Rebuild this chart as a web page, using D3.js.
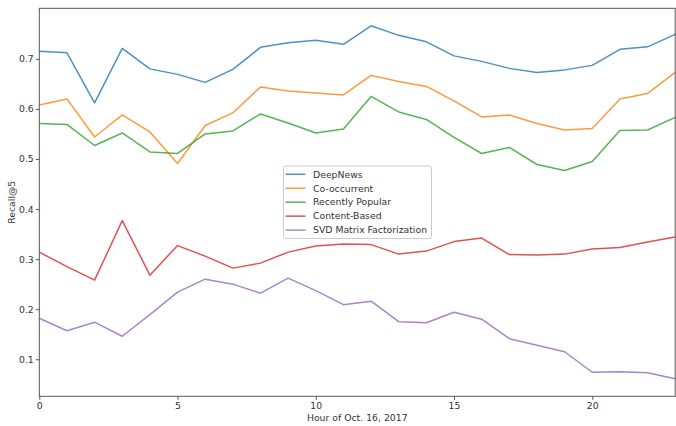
<!DOCTYPE html>
<html>
<head>
<meta charset="utf-8">
<script src="https://cdn.jsdelivr.net/npm/d3@7"></script>
<style>
  html, body { margin: 0; padding: 0; background: #fff; }
  svg { display: block; font-family: "DejaVu Sans", sans-serif; }
</style>
</head>
<body>
<svg id="chart" width="676" height="426"></svg>
<script>
const hours = d3.range(0, 24);
const seriesNames = ["DeepNews", "Co-occurrent", "Recently Popular", "Content-Based", "SVD Matrix Factorization"];
const deepNews = [0.715, 0.712, 0.612, 0.721, 0.680, 0.669, 0.653, 0.679, 0.723, 0.732, 0.737, 0.729,
                  0.766, 0.747, 0.734, 0.706, 0.695, 0.681, 0.673, 0.678, 0.687, 0.719, 0.724, 0.749];
const coOccurrent = [0.608, 0.620, 0.544, 0.588, 0.554, 0.491, 0.567, 0.592, 0.644, 0.636, 0.632, 0.628,
                     0.667, 0.655, 0.645, 0.616, 0.584, 0.588, 0.571, 0.558, 0.561, 0.620, 0.631, 0.673];
const recentlyPopular = [0.571, 0.569, 0.527, 0.552, 0.514, 0.511, 0.550, 0.556, 0.590, 0.572, 0.552, 0.560,
                         0.625, 0.594, 0.579, 0.543, 0.511, 0.523, 0.489, 0.477, 0.495, 0.557, 0.558, 0.583];
const contentBased = [0.314, 0.285, 0.258, 0.377, 0.268, 0.327, 0.306, 0.282, 0.292, 0.314, 0.326, 0.330,
                      0.329, 0.310, 0.316, 0.335, 0.342, 0.309, 0.308, 0.310, 0.320, 0.323, 0.334, 0.344];
const svdMF = [0.182, 0.157, 0.174, 0.146, 0.189, 0.234, 0.260, 0.250, 0.232, 0.262, 0.237, 0.209,
               0.216, 0.175, 0.173, 0.194, 0.180, 0.141, 0.128, 0.115, 0.074, 0.075, 0.073, 0.061];
const xTicks = [0, 5, 10, 15, 20];
const yTicks = [0.1, 0.2, 0.3, 0.4, 0.5, 0.6, 0.7];
const colors = ["#1f77b4", "#ff7f0e", "#2ca02c", "#d62728", "#9467bd"];

const allSeries = [deepNews, coOccurrent, recentlyPopular, contentBased, svdMF];

const L = 39.3, R = 675.2, T = 8.3, B = 396.3;
const svg = d3.select("#chart");
const x = d3.scaleLinear().domain([0, 23]).range([L, R]);
const y = d3.scaleLinear().domain([0.026, 0.801]).range([B, T]);

const textColor = "#333333";
const fs = "9.3px";

// lines
const line = d3.line().x((d, i) => x(hours[i])).y(d => y(d));
const plot = svg.append("g");
allSeries.forEach((s, k) => {
  plot.append("path")
    .datum(s)
    .attr("fill", "none")
    .attr("stroke", colors[k])
    .attr("stroke-opacity", 0.8)
    .attr("stroke-width", 1.5)
    .attr("stroke-linejoin", "round")
    .attr("d", line);
});

// frame
svg.append("rect")
  .attr("x", L).attr("y", T)
  .attr("width", R - L).attr("height", B - T)
  .attr("fill", "none")
  .attr("stroke", "#555")
  .attr("stroke-width", 1);

// axes
const xAxis = svg.append("g")
  .attr("transform", `translate(0,${B})`)
  .call(d3.axisBottom(x).tickValues(xTicks).tickFormat(d3.format("d")).tickSize(3.5).tickPadding(2.5));
const yAxis = svg.append("g")
  .attr("transform", `translate(${L},0)`)
  .call(d3.axisLeft(y).tickValues(yTicks).tickFormat(d3.format(".1f")).tickSize(3.5).tickPadding(2));
[xAxis, yAxis].forEach(a => {
  a.select(".domain").remove();
  a.selectAll("line").attr("stroke", "#555");
  a.selectAll("text").attr("fill", textColor).style("font-size", fs).style("font-family", "DejaVu Sans");
});

// axis labels
svg.append("text")
  .attr("x", (L + R) / 2).attr("y", 421)
  .attr("text-anchor", "middle")
  .attr("fill", textColor)
  .style("font-size", fs)
  .text("Hour of Oct. 16, 2017");
svg.append("text")
  .attr("transform", `translate(14.5,${(T + B) / 2}) rotate(-90)`)
  .attr("text-anchor", "middle")
  .attr("fill", textColor)
  .style("font-size", fs)
  .text("Recall@5");

// legend
const lg = svg.append("g");
lg.append("rect")
  .attr("x", 283.5).attr("y", 166)
  .attr("width", 148).attr("height", 72.5)
  .attr("rx", 2.5)
  .attr("fill", "#fff").attr("fill-opacity", 0.8)
  .attr("stroke", "#cccccc").attr("stroke-width", 1);
seriesNames.forEach((name, k) => {
  const yy = 174.3 + k * 13.95;
  lg.append("line")
    .attr("x1", 285.5).attr("x2", 305.5)
    .attr("y1", yy).attr("y2", yy)
    .attr("stroke", colors[k]).attr("stroke-opacity", 0.8).attr("stroke-width", 1.5);
  lg.append("text")
    .attr("x", 313).attr("y", yy)
    .attr("dy", "0.35em")
    .attr("fill", textColor)
    .style("font-size", fs)
    .text(name);
});
</script>
</body>
</html>
